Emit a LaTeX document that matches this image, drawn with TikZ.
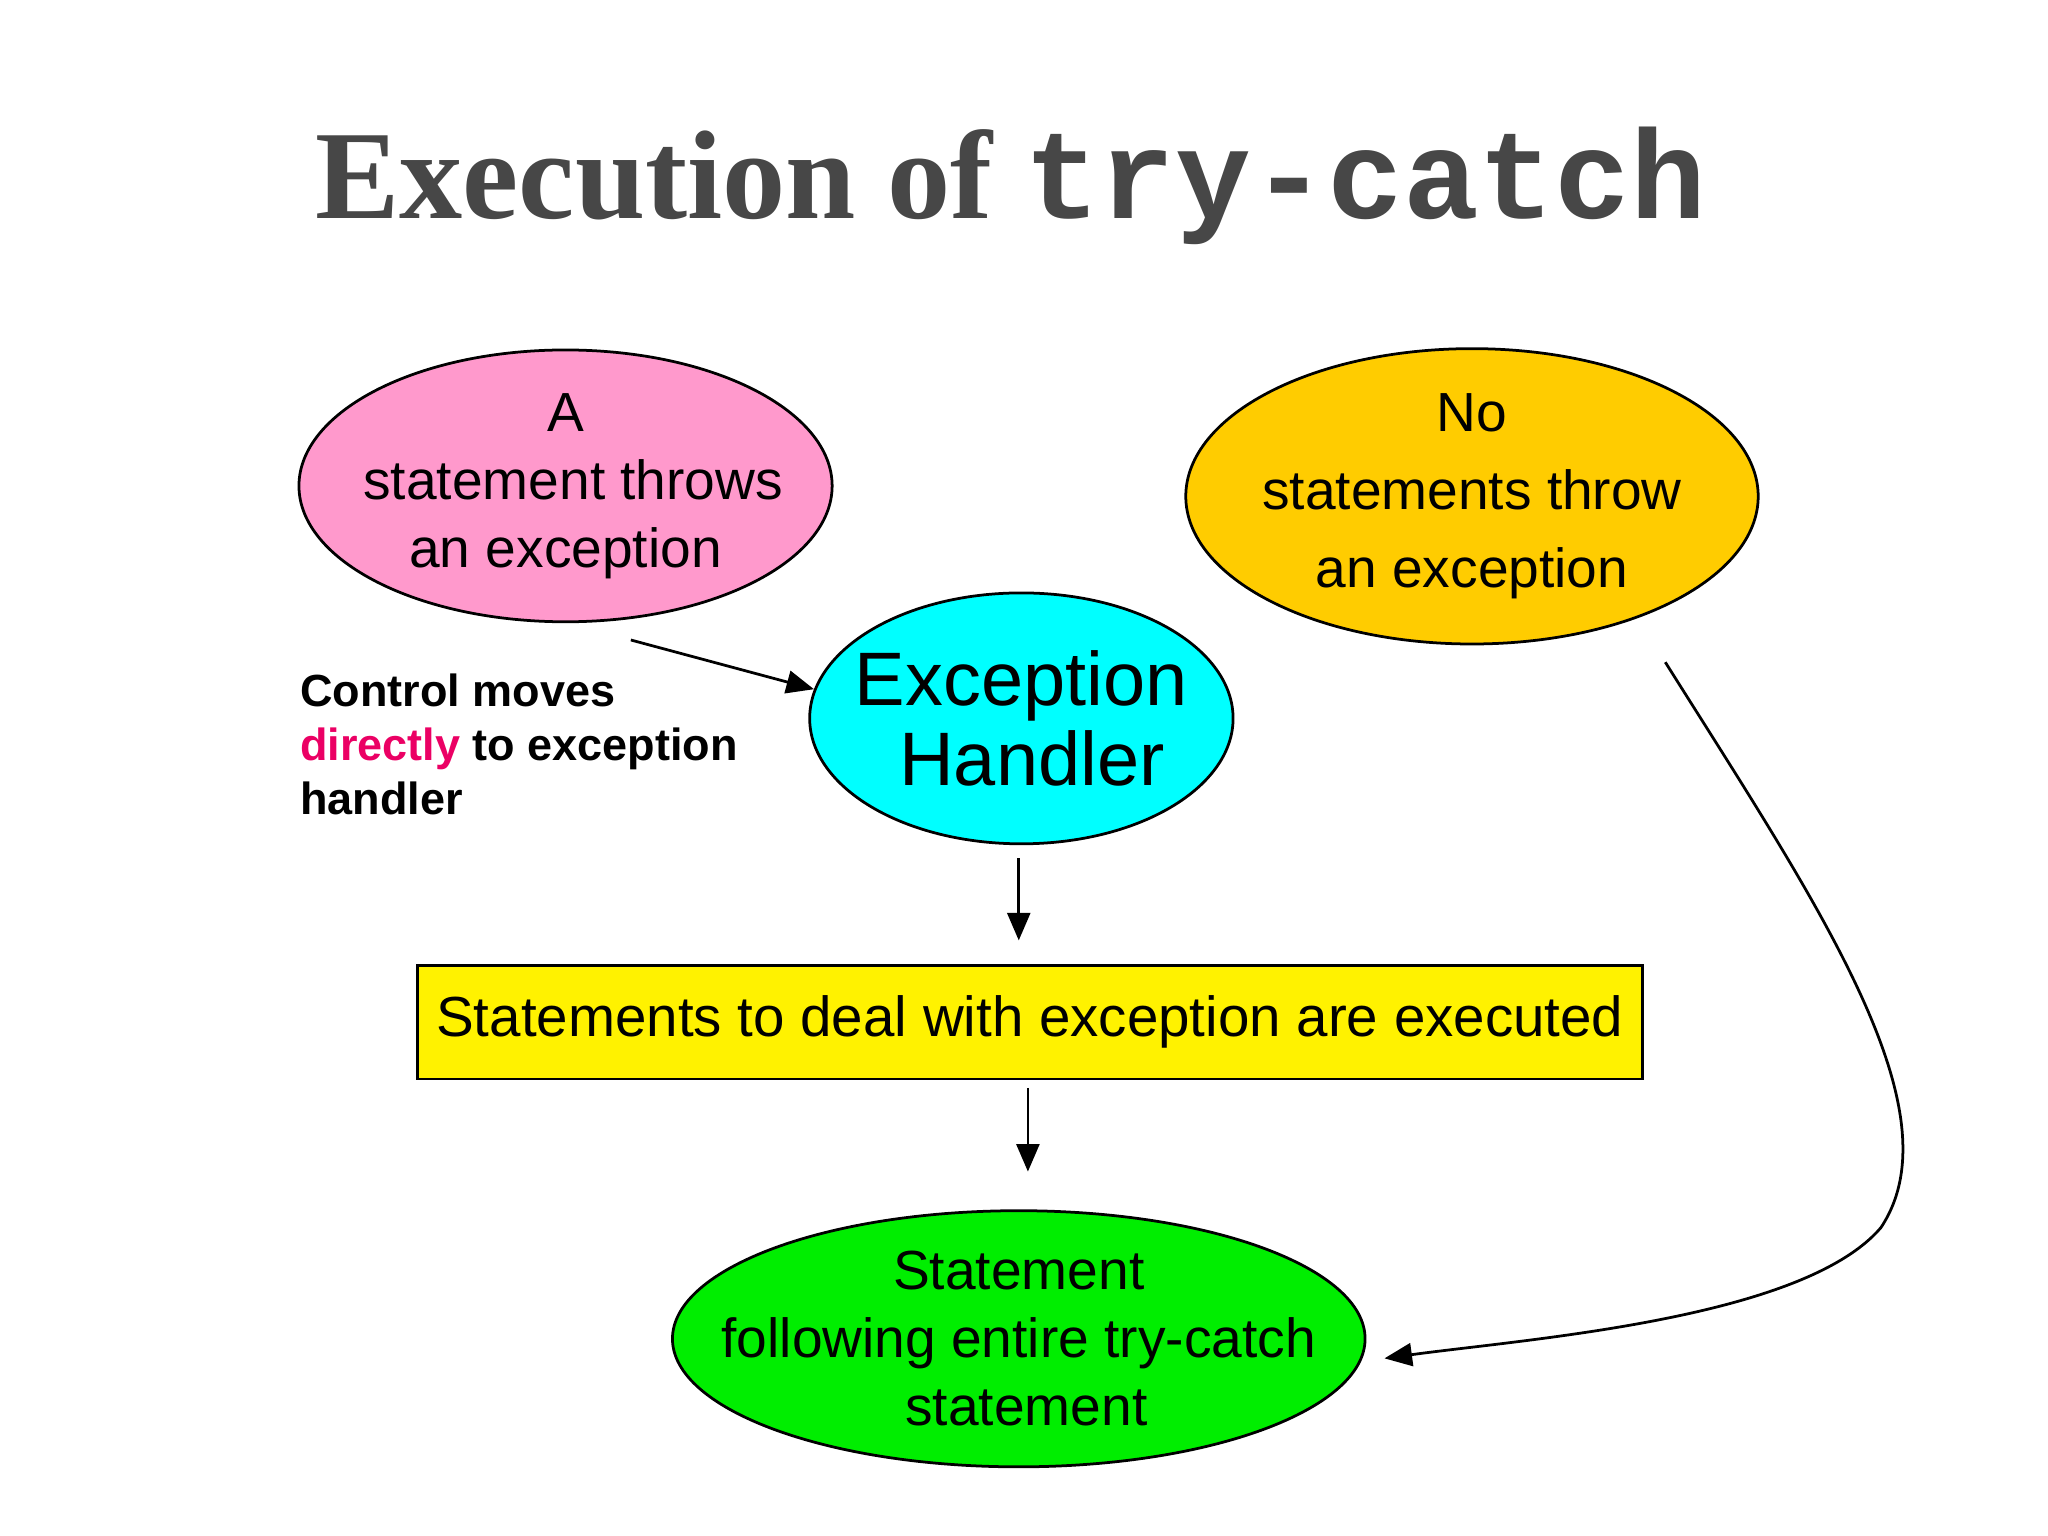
\documentclass[tikz,border=0pt]{standalone}
\usepackage{fontspec}
\setmainfont{Liberation Sans}
\newfontfamily\titleserif{Liberation Serif}
\newfontfamily\titlemono{Liberation Mono}
\usetikzlibrary{shapes.geometric,arrows.meta}
\begin{document}
\begin{tikzpicture}[x=0.01cm,y=-0.01cm,
  ell/.style={ellipse,draw=black,line width=0.6pt,inner sep=0pt},
  lbl/.style={align=center,inner sep=0pt},
  arr/.style={-{Triangle[length=6pt,width=5pt]},line width=0.6pt}]
\useasboundingbox (0,0) rectangle (1568,1176);
\node[text=black!72,font=\titleserif\bfseries\fontsize{27.5}{31}\selectfont] (title) at (774,142)
  {Execution of {\titlemono\bfseries try-catch}};
\node[ell,fill={rgb,255:red,255;green,153;blue,204},minimum width=4.08cm,minimum height=2.08cm] (pink) at (433,372) {};
\node[lbl,font=\fontsize{12}{14.8}\selectfont] (pinkt) at (pink) {A\\\ statement throws\\an exception};
\node[ell,fill={rgb,255:red,255;green,204;blue,0},minimum width=4.38cm,minimum height=2.26cm] (orange) at (1127,380) {};
\node[lbl,font=\fontsize{12}{17}\selectfont] (oranget) at (orange) {No\\statements throw\\an exception};
\node[ell,fill={rgb,255:red,0;green,255;blue,255},minimum width=3.24cm,minimum height=1.92cm] (cyan) at (782,550) {};
\node[lbl,font=\fontsize{16.5}{17.5}\selectfont] (cyant) at (cyan) {Exception\\\ Handler};
\node[draw=black,line width=0.6pt,fill=yellow,minimum width=9.37cm,minimum height=0.87cm,
  font=\fontsize{12.3}{14}\selectfont] (yellow) at (788.5,782.5) {Statements to deal with exception are executed};
\node[ell,fill={rgb,255:red,0;green,238;blue,0},minimum width=5.3cm,minimum height=1.96cm] (green) at (780,1025) {};
\node[lbl,font=\fontsize{12}{14.8}\selectfont] (greent) at (green) {Statement\\following entire try-catch\\\ statement};
\node[anchor=north west,align=left,inner sep=0pt,font=\bfseries\fontsize{9.8}{11.8}\selectfont] (ctrl) at (229,515)
  {Control moves\\{\color[RGB]{235,0,100}directly} to exception\\handler};
\coordinate (a1) at (483,490);
\draw[arr] (a1) -- (cyan.172);
\draw[arr] (780,657) coordinate (c1) -- (780,720) coordinate (c2);
\draw[arr] (787,833) coordinate (d1) -- (787,897) coordinate (d2);
\coordinate (e1) at (1275,507);
\coordinate (e2) at (1060,1040);
\draw[arr] (e1) .. controls (1390,690) and (1500,850) .. (1440,940)
  .. controls (1380,1010) and (1170,1025) .. (e2);
\end{tikzpicture}
\end{document}
